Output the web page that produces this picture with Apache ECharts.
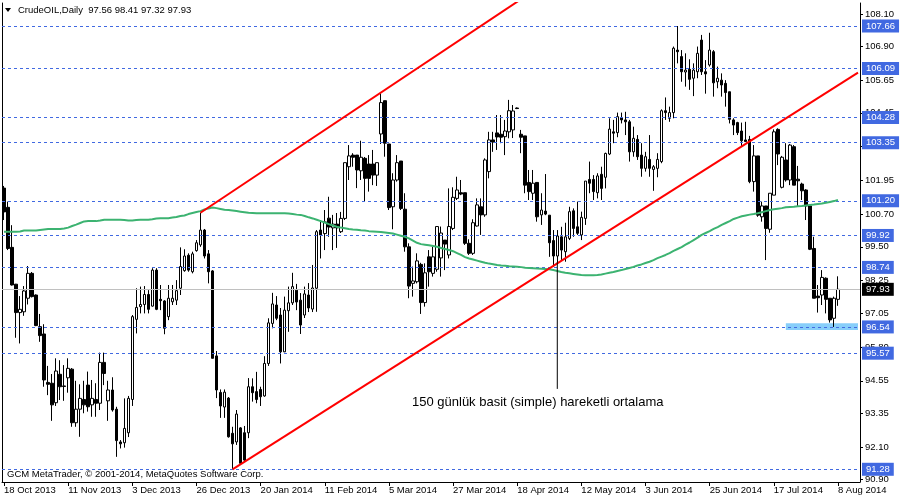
<!DOCTYPE html>
<html>
<head>
<meta charset="utf-8">
<script src="https://cdn.jsdelivr.net/npm/echarts@6/dist/echarts.min.js"></script>
<style>html,body{margin:0;padding:0;background:#fff}#c{width:900px;height:500px}</style>
</head>
<body>
<div id="c"></div>
<script>
// ---- Data (CrudeOIL Daily, 18 Oct 2013 .. 8 Aug 2014) ----
const opens = [101.67,100.96,99.48,98.12,97.07,97.10,97.60,98.52,97.72,96.55,96.28,94.49,94.46,93.74,94.79,94.36,94.66,94.98,93.00,93.50,93.86,94.39,93.66,93.86,93.72,95.23,93.81,94.21,93.50,92.29,92.26,92.63,93.86,96.82,97.29,97.37,97.74,97.31,98.64,97.56,97.50,96.92,97.47,97.53,97.97,98.62,99.19,98.58,99.36,99.57,100.12,99.24,98.61,95.47,94.12,93.58,93.91,92.61,92.29,92.81,92.63,92.63,94.33,94.15,94.23,93.99,95.19,96.67,97.35,96.98,95.62,97.14,97.43,97.90,97.53,96.98,97.72,97.20,97.97,100.12,99.99,100.56,100.20,100.34,100.06,100.55,102.46,102.89,102.89,102.31,102.77,102.56,102.56,102.15,103.67,104.90,103.30,100.98,101.97,102.67,100.89,99.50,98.15,98.21,98.85,97.44,99.13,98.52,98.67,99.09,99.75,99.20,100.18,101.29,101.50,101.50,99.63,99.26,100.27,100.98,100.68,102.28,103.45,103.71,103.66,103.57,103.75,103.82,104.63,103.66,103.60,101.88,101.48,101.88,100.68,100.82,100.67,99.73,99.16,99.87,99.32,99.81,100.83,100.24,99.94,100.55,101.99,101.99,101.50,102.18,102.07,102.93,103.75,103.72,104.27,104.19,104.12,103.01,103.47,102.89,102.40,102.73,102.36,102.40,102.65,104.53,104.25,104.46,106.77,106.53,105.96,106.06,105.73,105.97,107.14,105.97,106.22,106.71,105.60,105.66,105.54,105.23,104.19,104.09,103.78,103.45,103.47,101.91,102.86,100.61,101.01,100.15,101.41,103.84,101.70,102.71,101.97,103.20,102.00,101.82,101.60,101.01,99.44,97.68,97.72,98.34,97.60,96.86,97.56];
const highs = [101.75,101.17,100.30,98.13,97.68,98.05,98.79,98.57,97.74,97.02,96.64,95.10,94.80,95.38,95.31,95.13,95.38,95.02,94.55,94.42,94.55,94.89,94.58,94.46,95.59,95.59,94.55,94.68,93.59,92.36,93.90,93.99,96.98,97.97,98.03,98.05,97.90,98.71,98.71,98.09,97.53,98.09,98.09,98.27,99.48,99.41,99.26,99.32,99.75,100.76,100.16,99.38,98.64,95.65,94.23,94.23,93.95,92.85,93.47,92.84,92.88,94.65,94.64,94.88,94.33,95.46,96.86,97.80,97.68,97.24,97.66,98.03,98.54,98.13,97.79,98.03,98.16,98.83,100.12,100.49,100.86,101.35,100.68,100.75,100.79,102.61,103.26,102.96,102.89,103.42,102.82,102.89,103.08,102.61,105.17,104.90,103.30,102.22,102.89,102.67,101.48,99.63,98.77,99.26,98.91,98.89,99.38,99.50,100.25,100.25,99.75,101.66,101.70,102.09,101.97,101.50,99.78,100.52,101.29,101.29,102.77,103.75,103.75,104.37,104.37,104.19,104.93,104.74,104.65,103.82,103.60,102.34,102.34,101.88,101.48,102.19,100.67,100.12,100.12,100.24,100.39,100.98,100.92,101.17,100.80,101.93,102.65,102.15,102.22,102.46,102.98,104.25,104.19,104.46,104.46,104.49,104.19,103.94,103.63,103.33,103.01,103.63,102.52,102.96,104.58,105.02,104.68,106.90,107.66,106.77,106.65,106.43,106.28,106.90,107.33,106.40,107.41,106.77,106.16,105.91,105.66,105.23,104.25,104.12,104.09,104.12,103.60,103.26,102.86,101.17,101.01,101.48,103.84,103.88,102.86,103.33,103.30,103.26,102.49,101.87,101.63,101.01,99.87,98.09,98.64,98.37,97.60,97.66,98.41];
const lows = [100.49,99.38,98.07,96.14,95.93,96.95,97.37,97.63,96.57,95.99,94.33,94.02,93.07,93.62,93.84,93.81,94.11,92.85,92.85,92.48,93.35,93.41,93.22,93.22,93.47,94.39,93.07,93.41,91.74,92.05,92.08,92.47,93.62,96.30,97.04,97.04,97.04,97.29,97.16,97.16,96.27,96.79,97.35,97.35,97.72,98.58,98.58,98.52,99.32,99.50,99.07,98.15,95.38,93.91,93.18,93.18,92.45,91.28,92.18,91.47,91.59,92.43,93.78,93.72,93.62,93.96,95.10,96.49,96.79,95.19,95.61,96.36,97.35,97.16,96.28,96.87,97.09,97.09,97.10,99.07,99.38,99.87,99.38,99.46,100.01,100.49,101.97,102.46,101.67,101.97,101.17,101.54,101.78,101.75,103.30,102.83,100.86,100.15,101.91,100.86,99.32,97.60,97.66,98.15,97.02,97.29,98.03,98.40,98.58,98.40,98.64,99.07,100.12,101.23,101.41,99.57,99.20,99.20,100.25,99.94,100.61,102.03,103.01,103.08,103.33,102.89,103.51,103.52,104.59,102.96,101.48,101.23,101.23,100.43,100.31,100.67,99.13,98.76,98.94,99.01,98.95,99.75,99.87,99.94,99.75,100.31,101.48,101.23,101.29,101.23,101.66,102.89,103.33,103.55,104.06,103.63,102.65,102.83,102.71,102.09,102.28,102.09,101.57,102.07,102.59,104.19,104.12,104.25,106.28,105.60,105.42,105.30,105.07,105.73,105.85,105.16,106.16,105.05,105.36,105.05,104.68,104.06,103.63,103.63,103.20,103.39,101.85,101.54,100.61,100.43,99.01,100.02,101.41,102.52,101.66,101.91,101.78,101.78,101.01,101.23,100.49,99.38,97.60,97.07,97.35,97.04,96.70,96.54,97.32];
const closes = [100.79,99.44,98.09,97.07,97.19,97.87,98.52,97.66,96.59,96.22,94.58,94.42,93.66,94.91,94.33,94.34,95.01,93.00,93.50,93.90,93.66,93.59,93.90,93.72,95.23,94.82,94.21,93.47,92.34,92.22,92.79,93.90,96.92,97.26,97.37,97.74,97.19,98.64,97.19,97.51,96.49,97.60,97.60,97.88,98.77,99.16,98.64,99.24,99.65,100.12,99.16,98.58,95.38,94.21,93.62,94.13,92.48,92.22,93.32,91.50,91.62,94.33,94.11,93.86,93.96,95.19,96.69,97.39,96.86,95.62,97.16,97.43,98.03,97.46,96.61,97.76,97.24,97.98,100.06,99.94,100.42,100.23,100.34,100.20,100.55,102.61,102.86,102.81,102.34,102.81,102.03,102.03,102.15,102.61,104.83,103.33,100.95,101.97,102.61,100.92,99.50,98.05,98.24,98.98,97.44,98.54,98.58,99.13,100.25,100.01,99.60,100.25,101.33,101.60,101.45,99.63,99.26,100.39,101.05,100.68,102.71,103.45,103.37,103.56,103.55,103.78,104.53,104.52,104.61,103.55,101.78,101.54,101.85,100.61,100.86,100.71,99.65,99.16,99.90,99.38,99.87,100.80,100.18,100.00,100.59,101.93,101.85,101.54,102.12,101.66,102.95,103.85,103.70,104.31,104.19,104.12,103.01,103.51,102.83,102.40,102.83,102.40,102.46,102.73,104.53,104.46,104.46,106.84,106.71,105.97,106.03,105.69,106.03,106.65,105.97,105.89,106.77,105.56,105.73,105.48,105.20,104.21,104.00,103.72,103.42,103.39,101.91,102.86,100.67,101.01,100.18,101.48,103.75,102.93,102.81,101.97,103.26,101.78,101.94,101.57,101.01,99.41,97.60,97.62,98.37,97.56,96.80,97.60,97.93];
// 150-day simple moving average (green)
const sma150 = [100.06,100.06,100.06,100.06,100.07,100.10,100.10,100.10,100.10,100.12,100.14,100.16,100.16,100.16,100.16,100.18,100.21,100.27,100.32,100.38,100.44,100.45,100.45,100.45,100.47,100.50,100.50,100.50,100.50,100.50,100.49,100.47,100.47,100.49,100.50,100.50,100.50,100.52,100.55,100.56,100.56,100.56,100.58,100.60,100.64,100.66,100.71,100.75,100.79,100.82,100.88,100.92,100.95,100.93,100.90,100.87,100.86,100.84,100.82,100.80,100.78,100.76,100.75,100.74,100.74,100.74,100.74,100.74,100.74,100.74,100.74,100.73,100.71,100.69,100.68,100.64,100.59,100.55,100.50,100.45,100.40,100.34,100.29,100.24,100.21,100.19,100.16,100.14,100.13,100.11,100.10,100.08,100.07,100.06,100.05,100.03,100.01,99.99,99.95,99.91,99.87,99.81,99.73,99.65,99.60,99.58,99.56,99.53,99.50,99.46,99.42,99.38,99.34,99.27,99.20,99.12,99.07,99.03,98.99,98.95,98.91,98.88,98.86,98.83,98.81,98.80,98.78,98.77,98.76,98.75,98.73,98.72,98.71,98.70,98.69,98.68,98.67,98.64,98.61,98.57,98.54,98.52,98.50,98.48,98.46,98.45,98.45,98.45,98.46,98.48,98.51,98.54,98.57,98.61,98.64,98.68,98.72,98.76,98.81,98.85,98.90,98.95,99.01,99.08,99.14,99.20,99.27,99.35,99.42,99.49,99.58,99.66,99.75,99.84,99.94,100.01,100.08,100.16,100.23,100.31,100.38,100.45,100.53,100.58,100.63,100.66,100.69,100.71,100.74,100.78,100.82,100.86,100.89,100.91,100.93,100.96,100.97,100.98,101.00,101.01,101.03,101.05,101.06,101.08,101.10,101.13,101.16,101.19,101.23];
// x axis: one label every 16 bars
const dateLabels = ['18 Oct 2013','11 Nov 2013','3 Dec 2013','26 Dec 2013','20 Jan 2014','11 Feb 2014','5 Mar 2014','27 Mar 2014','18 Apr 2014','12 May 2014','3 Jun 2014','25 Jun 2014','17 Jul 2014','8 Aug 2014'];
const priceTicks = [90.90,92.10,93.35,94.55,95.80,97.05,98.25,99.50,100.70,101.95,103.20,104.45,105.65,106.90,108.10];
// horizontal levels (blue dashed) and the current price
const levels = [107.66,106.09,104.28,103.35,101.20,99.92,98.74,96.54,95.57,91.28];
const lastPrice = 97.93;
// trend lines [barIndex, price]
const upperTrend = [[49,100.76],[140,109.74]];
const lowerTrend = [[57,91.28],[213,105.94]];
const pointerLine = [[138,98.94],[138,94.25]];
const zoneBox = [[195,96.68],[213,96.43]];
const titleText = 'CrudeOIL,Daily  97.56 98.41 97.32 97.93';
const noteText = '150 günlük basit (simple) hareketli ortalama';
const copyText = 'GCM MetaTrader, © 2001-2014, MetaQuotes Software Corp.';

const TOTAL_SLOTS = 214;
const categories = [];
for (let i = 0; i < TOTAL_SLOTS; i++) categories.push(String(i));
const ohlc = opens.map((o, i) => [o, closes[i], lows[i], highs[i]]);

const FONT = "'Liberation Sans', Arial, sans-serif";
const BLUE = '#4169e1';
const chart = echarts.init(document.getElementById('c'), null, {renderer: 'canvas'});
const labelEvery = (idx) => idx % 16 === 0 && idx / 16 < dateLabels.length;

chart.setOption({
  animation: false,
  backgroundColor: '#ffffff',
  textStyle: {fontFamily: FONT},
  grid: {left: 2, right: 40, top: 3, bottom: 18, containLabel: false},
  xAxis: {
    type: 'category', data: categories, boundaryGap: true,
    axisLine: {show: true, lineStyle: {color: '#000', width: 1}},
    axisTick: {show: true, alignWithLabel: true, interval: labelEvery, length: 4, lineStyle: {color: '#000'}},
    axisLabel: {interval: labelEvery, formatter: (v, idx) => dateLabels[Math.round(idx / 16)] || '',
      align: 'left', margin: 3, fontSize: 9.5, color: '#000', fontFamily: FONT, hideOverlap: false},
    splitLine: {show: false}
  },
  yAxis: [{
    type: 'value', position: 'right', min: 90.81, max: 108.51, scale: true,
    axisLine: {show: true, lineStyle: {color: '#000', width: 1}},
    axisTick: {show: true, customValues: priceTicks, length: 3, lineStyle: {color: '#000'}},
    axisLabel: {customValues: priceTicks, formatter: v => v.toFixed(2), margin: 5, fontSize: 9.5, color: '#000', fontFamily: FONT, align: 'left'},
    splitLine: {show: false}
  }, {
    type: 'value', position: 'left', min: 90.81, max: 108.51,
    axisLine: {show: true, onZero: false, lineStyle: {color: '#000', width: 1}},
    axisTick: {show: false}, axisLabel: {show: false}, splitLine: {show: false}
  }],
  series: [
    {
      type: 'line', name: 'zone', data: [], z: 1, silent: true,
      markArea: {silent: true, itemStyle: {color: '#87cefa', opacity: 1},
        data: [[{coord: zoneBox[0]}, {coord: zoneBox[1]}]]}
    },
    {
      type: 'candlestick', name: 'CrudeOIL', data: ohlc, barWidth: 3, z: 3,
      itemStyle: {color: '#ffffff', color0: '#000000', borderColor: '#000000', borderColor0: '#000000', borderWidth: 1},
      markLine: {
        silent: true, symbol: ['none', 'none'], z: 4,
        data: levels.map(v => ({yAxis: v,
          lineStyle: {color: BLUE, type: [3, 3], width: 1},
          label: {show: true, position: 'end', formatter: () => v.toFixed(2), color: '#fff', backgroundColor: BLUE,
            padding: [2, 4, 1, 4], fontSize: 9.5, fontFamily: FONT, distance: 2, lineHeight: 10}}))
          .concat([{yAxis: lastPrice, lineStyle: {color: '#c0c0c0', type: 'solid', width: 1},
            label: {show: true, position: 'end', formatter: () => lastPrice.toFixed(2), color: '#fff', backgroundColor: '#000',
              padding: [2, 4, 1, 4], fontSize: 9.5, fontFamily: FONT, distance: 2, lineHeight: 10}}])
      }
    },
    {type: 'line', name: 'SMA150', data: sma150, showSymbol: false, symbol: 'none', z: 5,
      lineStyle: {color: '#3cb371', width: 2}},
    {type: 'line', name: 'upper', data: upperTrend, showSymbol: false, symbol: 'none', z: 6, clip: true,
      lineStyle: {color: '#ff0000', width: 2}},
    {type: 'line', name: 'lower', data: lowerTrend, showSymbol: false, symbol: 'none', z: 6, clip: true,
      lineStyle: {color: '#ff0000', width: 2}},
    {type: 'line', name: 'pointer', data: pointerLine, showSymbol: false, symbol: 'none', z: 6,
      lineStyle: {color: '#000', width: 1}}
  ],
  graphic: [
    {type: 'polygon', shape: {points: [[5, 8], [11, 8], [8, 12]]}, style: {fill: '#000'}},
    {type: 'text', left: 18, top: 5, style: {text: titleText, fill: '#000', font: '9.5px ' + FONT}},
    {type: 'text', left: 7, top: 469, style: {text: copyText, fill: '#000', font: '9.5px ' + FONT}},
    {type: 'text', left: 412, top: 396, style: {text: noteText, fill: '#000', font: '13px ' + FONT}}
  ]
});
</script>
</body>
</html>
